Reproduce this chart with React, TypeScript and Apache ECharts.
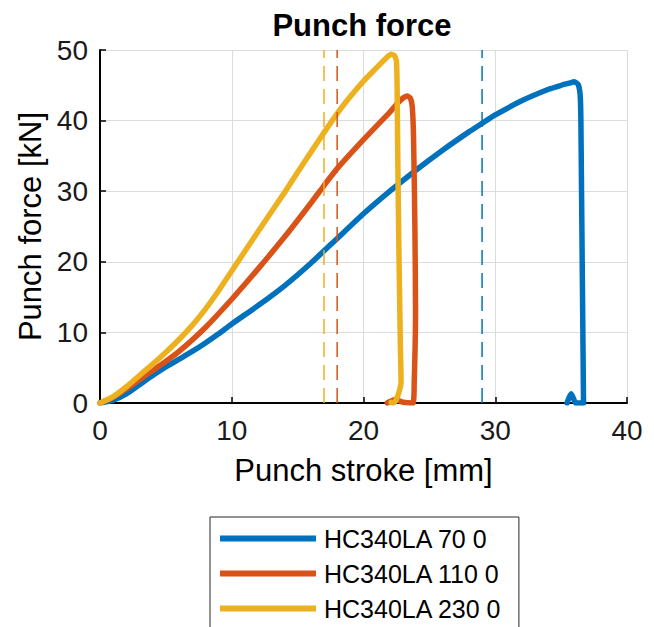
import React, { useEffect, useRef } from "react";
import * as echarts from "echarts";

const seriesNames = ["HC340LA 70 0", "HC340LA 110 0", "HC340LA 230 0"];
const seriesColors = ["#0072BD", "#D95319", "#EDB120"];

// HC340LA 70 0
const blueX = [0, 1, 2, 3, 4, 5, 6, 7, 8, 9, 10, 12, 14, 16, 18, 20, 22, 24, 26, 28, 29, 30, 32, 34, 35, 35.6, 36.0, 36.3, 36.45, 36.5, 36.55, 36.6, 36.65, 36.7, 36.1, 35.95, 35.75, 35.45];
const blueY = [0, 0.4, 1.3, 2.6, 3.9, 5.1, 6.2, 7.3, 8.5, 9.8, 11.2, 13.8, 16.6, 19.8, 23.3, 26.8, 30.0, 33.0, 35.8, 38.4, 39.6, 40.8, 42.8, 44.4, 45.0, 45.3, 45.5, 45.1, 43.5, 40, 30, 20, 10, 0, 0, 0.6, 1.3, 0];

// HC340LA 110 0
const orangeX = [0, 1, 2, 3, 4, 5, 6, 8, 10, 12, 14, 16, 17, 18, 20, 22, 22.5, 23.0, 23.3, 23.55, 23.7, 23.8, 23.9, 23.95, 23.85, 23.75, 23.0, 22.4, 22.0, 21.8];
const orangeY = [0, 0.8, 2.0, 3.3, 4.6, 5.9, 7.3, 10.7, 14.7, 19.0, 23.5, 28.3, 30.8, 33.2, 37.3, 41.2, 42.3, 43.2, 43.5, 43.2, 42.0, 37.5, 25, 13, 3, 0, 0.1, 0.5, 0.2, 0];

// HC340LA 230 0
const yellowX = [0, 1, 2, 3, 4, 5, 6, 7, 8, 9, 10, 12, 14, 15, 16, 17, 18, 19, 20, 21, 21.8, 22.1, 22.35, 22.5, 22.55, 22.6, 22.7, 22.8, 22.85, 22.6, 22.3, 22.1];
const yellowY = [0, 0.9, 2.3, 3.9, 5.5, 7.2, 9.0, 11.0, 13.3, 15.9, 18.7, 24.3, 29.8, 32.7, 35.5, 38.3, 41.0, 43.4, 45.6, 47.5, 49.0, 49.4, 49.2, 48.4, 45, 35, 20, 8, 3, 1, 0, 0.1];

const seriesX = [blueX, orangeX, yellowX];
const seriesY = [blueY, orangeY, yellowY];

// vertical dashed reference lines (stroke positions)
const refLines = [29, 18, 17];

const xTicks = { min: 0, max: 40, interval: 10 };
const yTicks = { min: 0, max: 50, interval: 10 };

const titleText = "Punch force";
const xName = "Punch stroke [mm]";
const yName = "Punch force [kN]";

const FONT = '"Liberation Sans", Arial, Helvetica, sans-serif';

export default function App() {
  const ref = useRef<HTMLDivElement>(null);
  useEffect(() => {
    if (!ref.current) return;
    const chart = echarts.init(ref.current, undefined, { renderer: "svg" });
    const curves = seriesNames.map((name, i) => ({
      name,
      type: "line",
      data: seriesX[i].map((x, k) => [x, seriesY[i][k]]),
      showSymbol: false,
      symbol: "none",
      smooth: 0.2,
      color: seriesColors[i],
      lineStyle: { width: 5.5, color: seriesColors[i], cap: "round", join: "round" },
      z: 3 + i,
    }));
    const dashes = refLines.map((x, i) => ({
      name: "ref" + i,
      type: "line",
      data: [[x, yTicks.min], [x, yTicks.max]],
      showSymbol: false,
      symbol: "none",
      silent: true,
      lineStyle: { width: 1.5, color: seriesColors[i], type: [15, 8] },
      z: 10,
    }));
    chart.setOption({
      animation: false,
      textStyle: { fontFamily: FONT },
      graphic: [
        {
          type: "text",
          x: 362,
          y: 25,
          style: {
            text: titleText,
            fontFamily: FONT,
            fontSize: 31,
            fontWeight: "bold",
            fill: "#000",
            align: "center",
            verticalAlign: "middle",
          },
        },
      ],
      grid: { left: 100, top: 50, width: 527, height: 353, containLabel: false },
      xAxis: {
        type: "value",
        min: xTicks.min,
        max: xTicks.max,
        interval: xTicks.interval,
        name: xName,
        nameLocation: "middle",
        nameGap: 52,
        nameTextStyle: { fontSize: 31, color: "#000", fontFamily: FONT },
        axisLine: { show: true, onZero: false, lineStyle: { color: "#000", width: 2 } },
        axisTick: { show: true, inside: true, length: 6, lineStyle: { color: "#000", width: 1.5 } },
        axisLabel: { fontSize: 28, color: "#1a1a1a", margin: 13, fontFamily: FONT },
        splitLine: { show: true, lineStyle: { color: "#dcdcdc", width: 1 } },
      },
      yAxis: {
        type: "value",
        min: yTicks.min,
        max: yTicks.max,
        interval: yTicks.interval,
        name: yName,
        nameLocation: "middle",
        nameGap: 48,
        nameRotate: 90,
        nameTextStyle: { fontSize: 31, color: "#000", fontFamily: FONT },
        axisLine: { show: true, lineStyle: { color: "#000", width: 2 } },
        axisTick: { show: true, inside: true, length: 6, lineStyle: { color: "#000", width: 1.5 } },
        axisLabel: { fontSize: 28, color: "#1a1a1a", margin: 12, fontFamily: FONT },
        splitLine: { show: true, lineStyle: { color: "#dcdcdc", width: 1 } },
      },
      legend: {
        data: seriesNames,
        orient: "vertical",
        left: 210,
        top: 517,
        height: 115,
        padding: [9, 17, 20, 10],
        itemGap: 10,
        itemWidth: 96,
        itemHeight: 6,
        icon: "rect",
        borderColor: "#262626",
        borderWidth: 1,
        backgroundColor: "#fff",
        textStyle: { fontSize: 25, color: "#000", fontFamily: FONT, padding: [0, 0, 0, 3] },
      },
      series: [...curves, ...dashes],
    });
    return () => chart.dispose();
  }, []);
  return (
    <div
      ref={ref}
      style={{ position: "absolute", left: 0, top: 0, width: 654, height: 627, background: "#fff" }}
    />
  );
}
